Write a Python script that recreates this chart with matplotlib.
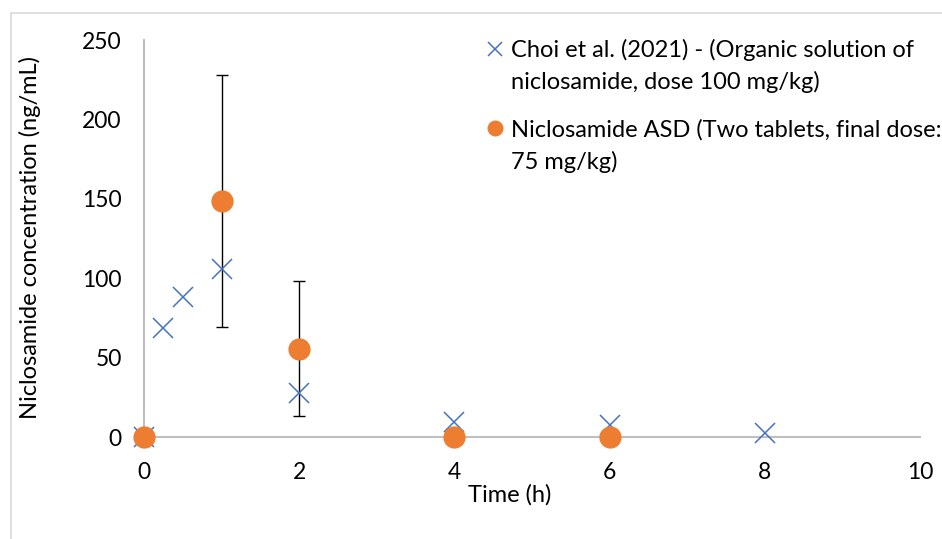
import matplotlib.pyplot as plt
from matplotlib.lines import Line2D
from matplotlib.patches import Rectangle

# data
choi_t = [0, 0.25, 0.5, 1, 2, 4, 6, 8]
choi_c = [0, 68.5, 88, 106, 28, 9.5, 7.5, 2.5]
asd_t = [0, 1, 2, 4, 6]
asd_c = [0, 148.5, 55.5, 0, 0]
asd_err = [0, 79.5, 42.5, 0, 0]

choi_label = ["Choi et al. (2021) - (Organic solution of", "niclosamide, dose 100 mg/kg)"]
asd_label = ["Niclosamide ASD (Two tablets, final dose:", "75 mg/kg)"]

blue = '#4472C4'
orange = '#ED7D31'
grey = '#BFBFBF'

plt.rcParams['font.family'] = ['Lato', 'DejaVu Sans']
plt.rcParams['font.size'] = 17

W, H = 942, 539
fig = plt.figure(figsize=(W / 100, H / 100), dpi=100)
# outer chart border
fig.patches.append(Rectangle((11 / W, -0.1), 1.2, (H - 13) / H + 0.1, transform=fig.transFigure,
                             fill=False, edgecolor='#D9D9D9', linewidth=1.2))
ax = fig.add_axes([144 / W, (H - 437) / H, (920 - 144) / W, (437 - 40) / H])

ax.plot(choi_t, choi_c, 'x', color=blue, markersize=15, markeredgewidth=1.1, zorder=3)
ax.errorbar(asd_t, asd_c, yerr=asd_err, fmt='none', ecolor='black', elinewidth=1, capsize=4.5, capthick=1, zorder=2)
ax.plot(asd_t, asd_c, 'o', color=orange, markersize=16, markeredgewidth=0, zorder=4)

ax.set_xlim(0, 10)
ax.set_ylim(0, 250)
ax.set_xticks([0, 2, 4, 6, 8, 10])
ax.set_yticks([0, 50, 100, 150, 200, 250])
for s in ['top', 'right']:
    ax.spines[s].set_visible(False)
for s in ['left', 'bottom']:
    ax.spines[s].set_color(grey)
    ax.spines[s].set_linewidth(1.5)
ax.tick_params(length=0, labelsize=16.5)
ax.tick_params(axis='y', pad=16)
ax.tick_params(axis='x', pad=18)
ax.patch.set_alpha(0)
for art in ax.lines + ax.collections:
    art.set_clip_on(False)

fig.text(510 / W, 1 - 495 / H, 'Time (h)', ha='center', va='center', fontsize=17)
fig.text(30 / W, 1 - 238 / H, 'Niclosamide concentration (ng/mL)', rotation=90,
         ha='center', va='center', fontsize=17)

# legend: two entries, each with a second line of text
blank = Line2D([], [], linestyle='none')
h1 = Line2D([], [], linestyle='none', marker='x', color=blue, markersize=10, markeredgewidth=1.1)
h2 = Line2D([], [], linestyle='none', marker='o', color=orange, markersize=11.5, markeredgewidth=0)
kw = dict(frameon=False, handlelength=0.55, handletextpad=0.4, labelspacing=0.42,
          borderpad=0, borderaxespad=0, fontsize=17, loc='upper left')
leg1 = fig.legend([h1, blank], choi_label, bbox_to_anchor=(489 / W, 1 - 39 / H), **kw)
leg2 = fig.legend([h2, blank], asd_label, bbox_to_anchor=(489 / W, 1 - 119 / H), **kw)

fig.savefig('out.png', dpi=100)
